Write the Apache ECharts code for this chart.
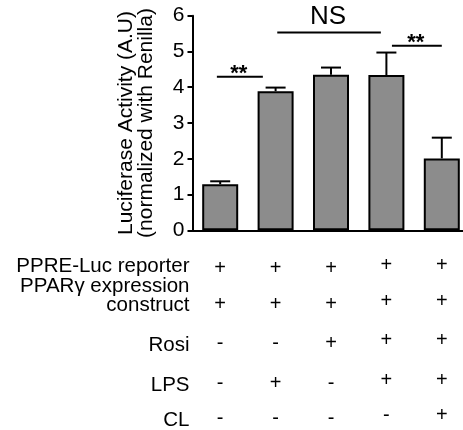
<!DOCTYPE html>
<html><head><meta charset="utf-8">
<script src="https://cdn.jsdelivr.net/npm/echarts@6/dist/echarts.min.js"></script>
<style>html,body{margin:0;padding:0;background:#fff}#c{width:463px;height:430px}</style>
</head><body><div id="c"></div>
<script>
// ---- data ----
const groups = ['G1','G2','G3','G4','G5'];
const means = [1.29, 3.89, 4.35, 4.34, 2.01];
const errs = [0.08, 0.10, 0.20, 0.63, 0.58];
const yTicks = [0,1,2,3,4,5,6];
const sigLabels = ['**','NS','**'];
const sigFrom = [-0.06, 1.03, 3.1];
const sigTo = [0.77, 2.9, 4.0];
const sigY = [4.29, 5.53, 5.16];
const rowLabels = ['PPRE-Luc reporter','PPARγ expression\nconstruct','Rosi','LPS','CL'];
const rowReporter = ['+','+','+','+','+'];
const rowPPAR = ['+','+','+','+','+'];
const rowRosi = ['-','-','+','+','+'];
const rowLPS = ['-','+','-','+','+'];
const rowCL = ['-','-','-','-','+'];
const signRows = [rowReporter, rowPPAR, rowRosi, rowLPS, rowCL];

// ---- layout (pixels below the zero line) ----
const rowSymOff = [38.5, 74, 113, 153, 188.5];
const rowLabOff = [36, 66, 115, 155, 190];
const colShift = [0,0,0,-3,-3];
const FONT = 'Liberation Sans, Arial, Helvetica, sans-serif';

const errData = groups.map((g,i)=>[i, means[i], errs[i]]);
const sigData = sigLabels.map((l,i)=>[sigFrom[i], sigTo[i], sigY[i], l]);
const signData = [];
signRows.forEach((row,r)=>row.forEach((s,c)=>signData.push([c, r, s])));
const labelData = rowLabels.map((l,r)=>[-0.5, r, l]);

const chart = echarts.init(document.getElementById('c'), null, {renderer:'canvas'});
chart.setOption({
  animation:false,
  backgroundColor:'#fff',
  grid:{left:192.5, top:15.7, width:277, height:214.6, containLabel:false, outerBoundsMode:'none'},
  xAxis:[{
    type:'category', data:groups, boundaryGap:true,
    axisLine:{onZero:false, lineStyle:{color:'#000', width:2}},
    axisTick:{alignWithLabel:true, length:6, lineStyle:{color:'#000', width:2}},
    axisLabel:{show:false}, splitLine:{show:false}
  },{
    type:'value', min:-0.5, max:4.5, show:false
  }],
  yAxis:{
    type:'value', min:yTicks[0], max:yTicks[yTicks.length-1], interval:1,
    axisLine:{show:true, onZero:false, lineStyle:{color:'#000', width:2}},
    axisTick:{show:true, length:5, lineStyle:{color:'#000', width:2}},
    axisLabel:{color:'#000', fontSize:21, fontFamily:FONT, margin:8},
    splitLine:{show:false},
    name:'Luciferase Activity (A.U)\n(normalized with Renilla)',
    nameLocation:'middle', nameRotate:90, nameGap:36,
    nameTextStyle:{color:'#000', fontSize:21, fontFamily:FONT, lineHeight:20}
  },
  series:[
    {
      type:'custom', xAxisIndex:0, yAxisIndex:0, z:1, clip:false,
      data:errData,
      renderItem:function(params, api){
        const top = api.coord([api.value(0), api.value(1)+api.value(2)]);
        const base = api.coord([api.value(0), api.value(1)]);
        return {type:'group', children:[
          {type:'line', shape:{x1:top[0], y1:base[1], x2:top[0], y2:top[1]}, style:{stroke:'#000', lineWidth:2}},
          {type:'line', shape:{x1:top[0]-10, y1:top[1], x2:top[0]+10, y2:top[1]}, style:{stroke:'#000', lineWidth:2}}
        ]};
      }
    },
    {
      type:'bar', xAxisIndex:0, yAxisIndex:0, z:3, data:means, barWidth:36,
      itemStyle:{color:'#8c8c8c', borderColor:'#000', borderWidth:2}
    },
    {
      type:'custom', xAxisIndex:1, yAxisIndex:0, z:4, clip:false,
      data:sigData,
      renderItem:function(params, api){
        const a = api.coord([api.value(0), api.value(2)]);
        const b = api.coord([api.value(1), api.value(2)]);
        const lab = sigLabels[params.dataIndex];
        const isNS = lab === 'NS';
        return {type:'group', children:[
          {type:'line', shape:{x1:a[0], y1:a[1], x2:b[0], y2:b[1]}, style:{stroke:'#000', lineWidth:2}},
          {type:'text', x:(a[0]+b[0])/2 - 1, y: isNS ? a[1]-16 : a[1]-3,
            style:{text:lab, fill:'#000', fontSize: isNS ? 26 : 22, fontWeight: isNS ? 'normal' : 'bold',
              fontFamily:FONT, align:'center', verticalAlign:'middle'}}
        ]};
      }
    },
    {
      type:'custom', xAxisIndex:1, yAxisIndex:0, z:4, clip:false,
      data:signData,
      renderItem:function(params, api){
        const c = api.value(0), r = api.value(1);
        const p = api.coord([c, 0]);
        const s = signRows[r][c];
        return {type:'text', x:p[0], y:p[1] + rowSymOff[r] + colShift[c],
          style:{text:s, fill:'#000', fontSize:20, fontFamily:FONT, align:'center', verticalAlign:'middle'}};
      }
    },
    {
      type:'custom', xAxisIndex:1, yAxisIndex:0, z:4, clip:false,
      data:labelData,
      renderItem:function(params, api){
        const r = api.value(1);
        const p = api.coord([-0.5, 0]);
        return {type:'text', x:p[0]-3, y:p[1] + rowLabOff[r],
          style:{text:rowLabels[r], fill:'#000', fontSize:20.5, fontFamily:FONT, lineHeight:19,
            align:'right', verticalAlign:'middle'}};
      }
    }
  ]
});
</script></body></html>
